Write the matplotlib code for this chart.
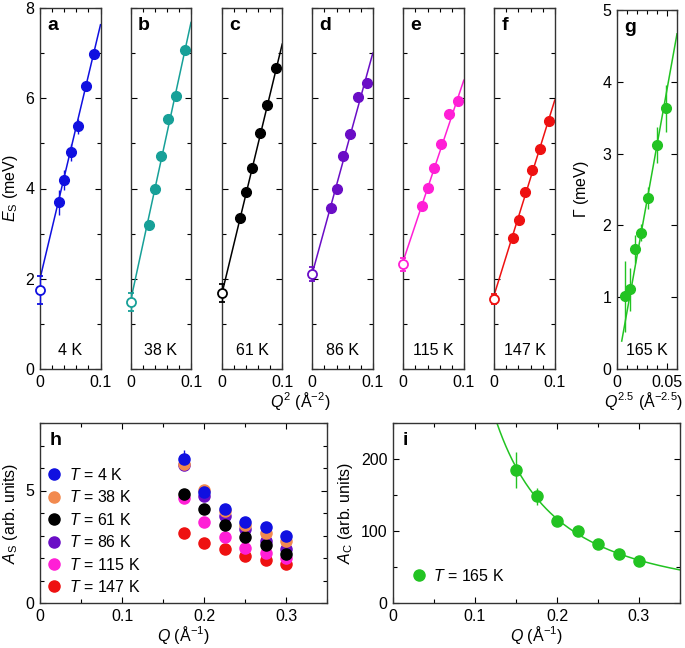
import numpy as np
import matplotlib
matplotlib.use('Agg')
import matplotlib.pyplot as plt
from matplotlib.ticker import MultipleLocator, FuncFormatter
from matplotlib.lines import Line2D

plt.rcParams['font.family'] = ['Liberation Sans', 'DejaVu Sans']
plt.rcParams['mathtext.fontset'] = 'custom'
plt.rcParams['mathtext.rm'] = 'Liberation Sans'
plt.rcParams['mathtext.it'] = 'Liberation Sans:italic'
plt.rcParams['mathtext.bf'] = 'Liberation Sans:bold'
plt.rcParams['font.size'] = 11.5
plt.rcParams['axes.linewidth'] = 1.0

# ---- data ----
q = [0.175, 0.2, 0.225, 0.25, 0.275, 0.3]
temps = ['4 K', '38 K', '61 K', '86 K', '115 K', '147 K']
letters = ['a', 'b', 'c', 'd', 'e', 'f']
colors_es = ['#1010e0', '#17a098', '#000000', '#6a0dc6', '#ff1fd6', '#ee1111']

es_4 = [3.69, 4.19, 4.80, 5.38, 6.27, 6.98]
es_38 = [3.19, 3.99, 4.73, 5.54, 6.04, 7.08]
es_61 = [3.35, 3.93, 4.45, 5.23, 5.84, 6.68]
es_86 = [3.56, 3.99, 4.73, 5.20, 6.02, 6.33]
es_115 = [3.62, 4.02, 4.46, 4.98, 5.65, 5.94]
es_147 = [2.90, 3.30, 3.92, 4.40, 4.87, 5.49]
es_err_4 = [0.28, 0.22, 0.18, 0.17, 0.10, 0.11]
es_err = [0.08, 0.08, 0.08, 0.08, 0.08, 0.08]

# gap at Q = 0 (open symbols)
e0_val = [1.75, 1.48, 1.68, 2.10, 2.32, 1.55]
e0_err = [0.30, 0.20, 0.20, 0.15, 0.15, 0.12]

# linear fits E = E0 + D Q^2
fit_e0 = [2.0, 1.5, 1.65, 2.12, 2.4, 1.65]
fit_d = [56.3, 61.8, 55.5, 48.8, 40.0, 43.1]

# panel g: damping at 165 K
q_g = [0.15, 0.175, 0.2, 0.225, 0.25, 0.275, 0.3]
gamma = [1.01, 1.11, 1.67, 1.90, 2.38, 3.12, 3.63]
gamma_err = [0.50, 0.30, 0.20, 0.12, 0.15, 0.25, 0.33]
g_fit_slope = 77.8
g_fit_range = [0.005, 0.06]

# panel h: spin wave intensity
a_s = {
    '4 K': [6.39, 4.92, 4.16, 3.59, 3.36, 2.98],
    '38 K': [6.20, 5.02, 4.10, 3.45, 3.13, 2.77],
    '61 K': [4.84, 4.18, 3.48, 2.95, 2.58, 2.18],
    '86 K': [6.13, 4.76, 3.87, 3.27, 2.77, 2.39],
    '115 K': [4.65, 3.61, 2.92, 2.43, 2.21, 1.99],
    '147 K': [3.13, 2.68, 2.39, 2.10, 1.91, 1.72],
}
a_s_err_4 = [0.40, 0.10, 0.08, 0.08, 0.08, 0.08]
colors_h = ['#1010e0', '#f28a4f', '#000000', '#6a0dc6', '#ff1fd6', '#ee1111']

# panel i: critical intensity at 165 K
a_c = [185, 148, 114.4, 100.4, 81.4, 68.3, 58]
a_c_err = [25, 12, 4, 4, 3, 3, 3]
green = '#22c322'

W, H = 685, 648
fig = plt.figure(figsize=(W / 100, H / 100), dpi=100)


def px_axes(l, t, r, b):
    return fig.add_axes([l / W, 1 - b / H, (r - l) / W, (b - t) / H])


fmt = FuncFormatter(lambda v, p: '%g' % round(v, 4))


def style(ax):
    ax.tick_params(which='both', direction='in', top=True, right=True, width=0.8)
    ax.tick_params(which='major', length=4.5, pad=4)
    ax.tick_params(which='minor', length=3)
    for s in ax.spines.values():
        s.set_color('#333333')


# ---- panels a-f ----
lefts = [40, 130.5, 221.7, 312.3, 403.3, 494.3]
es_all = [es_4, es_38, es_61, es_86, es_115, es_147]
q2 = np.array(q) ** 2
q2_line = np.array([0, 0.1])
for i in range(6):
    ax = px_axes(lefts[i], 8, lefts[i] + 60.5, 369)
    c = colors_es[i]
    err = es_err_4 if i == 0 else es_err
    ax.plot(q2_line, fit_e0[i] + fit_d[i] * q2_line, color=c, lw=1.1)
    ax.errorbar(q2, es_all[i], yerr=err, fmt='o', color=c, ms=7,
                elinewidth=1, capsize=0)
    ax.errorbar([0], [e0_val[i]], yerr=[e0_err[i]], fmt='o', color=c,
                mfc='white', mec=c, mew=1.3, ms=6.5, elinewidth=1,
                capsize=2, clip_on=False, zorder=5)
    ax.set_xlim(0, 0.1)
    ax.set_ylim(0, 8)
    ax.xaxis.set_major_locator(MultipleLocator(0.1))
    ax.xaxis.set_minor_locator(MultipleLocator(0.02))
    ax.yaxis.set_major_locator(MultipleLocator(2))
    ax.yaxis.set_minor_locator(MultipleLocator(1))
    ax.xaxis.set_major_formatter(fmt)
    style(ax)
    if i == 0:
        ax.set_ylabel(r'$E_{\mathrm{S}}$ (meV)')
    else:
        ax.tick_params(labelleft=False)
    ax.text(0.12, 0.975, letters[i], transform=ax.transAxes, ha='left',
            va='top', fontsize=14, fontweight='bold')
    ax.text(0.5, 0.03, temps[i], transform=ax.transAxes, ha='center',
            va='bottom')

fig.text(300 / W, 1 - 401 / H, r'$Q^2$ (Å$^{-2}$)', ha='center', va='center')

# ---- panel g ----
ax = px_axes(616.7, 10, 677, 369)
xg = np.array(q_g) ** 2.5
xl = np.array(g_fit_range)
ax.plot(xl, g_fit_slope * xl, color=green, lw=1.1)
ax.errorbar(xg, gamma, yerr=gamma_err, fmt='o', color=green, ms=7,
            elinewidth=1, capsize=0)
ax.set_xlim(0, 0.06)
ax.set_ylim(0, 5)
ax.xaxis.set_major_locator(MultipleLocator(0.05))
ax.xaxis.set_minor_locator(MultipleLocator(0.01))
ax.yaxis.set_major_locator(MultipleLocator(1))
ax.xaxis.set_major_formatter(fmt)
style(ax)
ax.set_ylabel(r'$\Gamma$ (meV)', labelpad=8)
ax.text(0.12, 0.975, 'g', transform=ax.transAxes, ha='left', va='top',
        fontsize=14, fontweight='bold')
ax.text(0.5, 0.03, '165 K', transform=ax.transAxes, ha='center', va='bottom')
fig.text(644 / W, 1 - 401 / H, r'$Q^{2.5}$ (Å$^{-2.5}$)', ha='center',
         va='center')

# ---- panel h ----
ax = px_axes(40, 423, 327, 603)
keys = list(a_s.keys())
for j in range(5, -1, -1):
    k = keys[j]
    err = a_s_err_4 if j == 0 else None
    ax.errorbar(q, a_s[k], yerr=err, fmt='o', color=colors_h[j], ms=8,
                elinewidth=1, capsize=0)
handles = [Line2D([], [], ls='none', marker='o', ms=8, color=colors_h[j],
                  label=r'$T$ = ' + keys[j]) for j in range(6)]
ax.set_xlim(0, 0.35)
ax.set_ylim(0, 8)
ax.xaxis.set_major_locator(MultipleLocator(0.1))
ax.xaxis.set_minor_locator(MultipleLocator(0.05))
ax.yaxis.set_major_locator(MultipleLocator(5))
ax.yaxis.set_minor_locator(MultipleLocator(1))
ax.xaxis.set_major_formatter(fmt)
style(ax)
ax.set_xlabel(r'$Q$ (Å$^{-1}$)', labelpad=0)
ax.set_ylabel(r'$A_{\mathrm{S}}$ (arb. units)')
ax.text(0.035, 0.95, 'h', transform=ax.transAxes, ha='left', va='top',
        fontsize=14, fontweight='bold')
ax.legend(handles=handles, loc='lower left', frameon=False, handlelength=0.8,
          handletextpad=0.5, labelspacing=0.4, borderaxespad=0.2,
          borderpad=0.3)

# ---- panel i ----
ax = px_axes(393, 423, 680, 603)
pfit = np.polyfit(np.log(q_g), np.log(a_c), 1)
ql = np.linspace(0.1, 0.35, 200)
ax.plot(ql, np.exp(np.polyval(pfit, np.log(ql))), color=green, lw=1.1)
ax.errorbar(q_g, a_c, yerr=a_c_err, fmt='o', color=green, ms=8,
            elinewidth=1, capsize=0)
ax.set_xlim(0, 0.35)
ax.set_ylim(0, 250)
ax.xaxis.set_major_locator(MultipleLocator(0.1))
ax.xaxis.set_minor_locator(MultipleLocator(0.05))
ax.yaxis.set_major_locator(MultipleLocator(100))
ax.yaxis.set_minor_locator(MultipleLocator(50))
ax.xaxis.set_major_formatter(fmt)
style(ax)
ax.set_xlabel(r'$Q$ (Å$^{-1}$)', labelpad=0)
ax.set_ylabel(r'$A_{\mathrm{C}}$ (arb. units)')
ax.text(0.035, 0.95, 'i', transform=ax.transAxes, ha='left', va='top',
        fontsize=14, fontweight='bold')
ax.legend(handles=[Line2D([], [], ls='none', marker='o', ms=8, color=green,
                          label=r'$T$ = 165 K')],
          loc='lower left', frameon=False, handlelength=0.8,
          handletextpad=0.5, borderaxespad=0.2, borderpad=1.0)

fig.savefig('out.png', dpi=100)
